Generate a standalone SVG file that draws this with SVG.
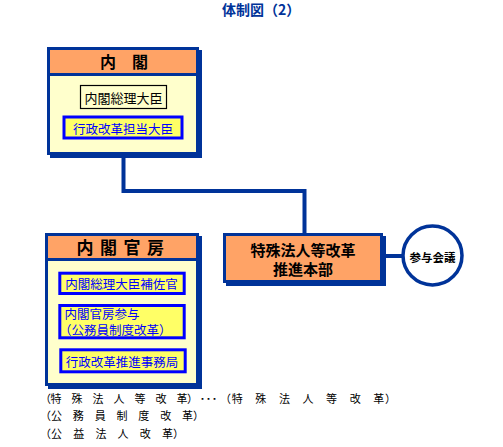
<svg xmlns="http://www.w3.org/2000/svg" width="503" height="447" viewBox="0 0 503 447">
<style>
text{font-family:"Noto Sans CJK JP","Noto Sans CJK SC",sans-serif;}
.frame{fill:#003399;}
.head{fill:#FFA366;}
.body{fill:#FFFFCC;}
.hd{font-weight:bold;fill:#000;}
.yb{fill:#FFFF66;stroke:#0000FF;stroke-width:3;}
.bt{fill:#0000FF;font-size:12.5px;}
.conn{fill:none;stroke:#003399;stroke-width:4;}
.note{font-size:11px;fill:#000;}
</style>
<text x="222" y="15" font-size="14" font-weight="bold" fill="#003399">体制図（2）</text>
<g id="connectors">
<path class="conn" d="M123.5 155 V191 H304.5 V234"/>
<path class="conn" d="M383 256 H402"/>
</g>
<g id="cabinet">
<rect class="frame" x="50" y="50" width="152" height="108"/>
<rect class="frame" x="47" y="47" width="152" height="108"/>
<rect class="head" x="50" y="50" width="146" height="23"/>
<rect class="body" x="50" y="76" width="146" height="76"/>
<text class="hd" x="124" y="68" font-size="16" text-anchor="middle">内　閣</text>
<rect x="80.5" y="85.5" width="86" height="23" fill="#FFFFCC" stroke="#000" stroke-width="1.2"/>
<text x="123.5" y="102.5" font-size="13" text-anchor="middle" fill="#000">内閣総理大臣</text>
<rect class="yb" x="64" y="117" width="118" height="21"/>
<text class="bt" x="123" y="133.5" text-anchor="middle">行政改革担当大臣</text>
</g>
<g id="secretariat">
<rect class="frame" x="48" y="236" width="154" height="153"/>
<rect class="frame" x="45" y="233" width="154" height="153"/>
<rect class="head" x="48" y="236" width="148" height="22"/>
<rect class="body" x="48" y="261" width="148" height="122"/>
<text class="hd" x="76.5" y="254" font-size="17" letter-spacing="6.5">内閣官房</text>
<rect class="yb" x="59.8" y="273.2" width="124.4" height="20.3"/>
<text class="bt" x="121.5" y="289" text-anchor="middle">内閣総理大臣補佐官</text>
<rect class="yb" x="59.8" y="305.5" width="124.4" height="32.3"/>
<text class="bt" font-size="12"><tspan x="64.5" y="319">内閣官房参与</tspan><tspan x="59" y="334.5">（公務員制度改革）</tspan></text>
<rect class="yb" x="60.8" y="349.8" width="124.4" height="22"/>
<text class="bt" x="122" y="366.5" text-anchor="middle">行政改革推進事務局</text>
</g>
<g id="reform-hq">
<rect class="frame" x="226" y="236" width="160" height="50"/>
<rect class="frame" x="223" y="233" width="160" height="50"/>
<rect class="head" x="226" y="236" width="154" height="44"/>
<text class="hd" font-size="15" text-anchor="middle"><tspan x="303" y="256">特殊法人等改革</tspan><tspan x="303" y="274.5">推進本部</tspan></text>
</g>
<g id="council">
<circle cx="432.5" cy="255.5" r="29.5" fill="#fff" stroke="#003399" stroke-width="3.5"/>
<text class="hd" x="432.5" y="261.5" font-size="11.5" text-anchor="middle">参与会議</text>
</g>
<g id="notes">
<text class="note" x="40" y="403" textLength="158" lengthAdjust="spacing">（特　殊　法　人　等　改　革）</text>
<text class="note" x="199.5" y="403" textLength="18" lengthAdjust="spacingAndGlyphs">･･･</text>
<text class="note" x="220" y="403" textLength="176" lengthAdjust="spacing">（特　殊　法　人　等　改　革）</text>
<text class="note" x="40" y="420" textLength="164" lengthAdjust="spacing">（公　務　員　制　度　改　革）</text>
<text class="note" x="40" y="438" textLength="144" lengthAdjust="spacing">（公　益　法　人　改　革）</text>
</g>
</svg>
